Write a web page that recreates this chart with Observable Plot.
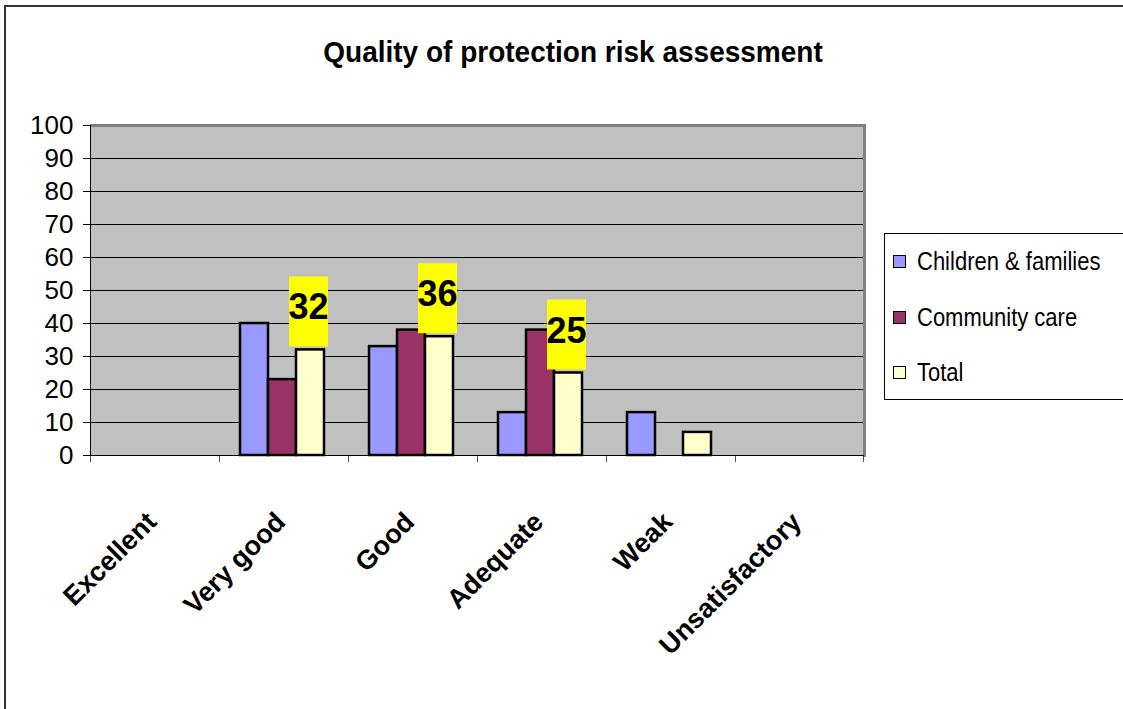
<!DOCTYPE html>
<html>
<head>
<meta charset="utf-8">
<script src="https://cdn.jsdelivr.net/npm/d3@7"></script>
<script src="https://cdn.jsdelivr.net/npm/@observablehq/plot@0.6"></script>
<style>
  html, body { margin: 0; padding: 0; background: #fff; }
  #wrap { position: relative; width: 1123px; height: 709px; overflow: hidden; background: #fff;
          font-family: "Liberation Sans", Arial, sans-serif; }
  #border { position: absolute; left: 4px; top: 5px; right: -10px; bottom: -10px;
            border-top: 2px solid #333; border-left: 2px solid #333; }
  #title { position: absolute; left: 573px; top: 36px; transform: translateX(-50%) scaleY(1.08);
           font-size: 28px; font-weight: bold; white-space: nowrap; color: #000; }
  #chart { position: absolute; left: 0; top: 0; }
  #legend { position: absolute; left: 884px; top: 233px; width: 260px; height: 165px;
            border: 1px solid #000; background: #fff; }
  .item { position: absolute; left: 8px; display: flex; align-items: center; font-size: 25px; color: #000; white-space: nowrap; }
  .item span { display: inline-block; transform: scaleX(0.88); transform-origin: left center; }
  .sw { width: 11px; height: 11px; border: 1px solid #000; margin-right: 11px; }
  svg text { font-family: "Liberation Sans", Arial, sans-serif; }
</style>
</head>
<body>
<div id="wrap">
  <div id="border"></div>
  <div id="title">Quality of protection risk assessment</div>
  <div id="chart"></div>
  <div id="legend"></div>
</div>
<script>
const categories = ["Excellent", "Very good", "Good", "Adequate", "Weak", "Unsatisfactory"];
const series = ["Children & families", "Community care", "Total"];
const childrenFamilies = [0, 40, 33, 13, 13, 0];
const communityCare = [0, 23, 38, 38, 0, 0];
const total = [0, 32, 36, 25, 7, 0];
const labelledCategories = ["Very good", "Good", "Adequate"];
const seriesColors = ["#9999FF", "#993366", "#FFFFCC"];
const yTicks = [0, 10, 20, 30, 40, 50, 60, 70, 80, 90, 100];

const seriesValues = [childrenFamilies, communityCare, total];
const rows = [];
categories.forEach((c, i) => {
  series.forEach((s, j) => {
    rows.push({category: c, series: s, value: seriesValues[j][i]});
  });
});
const barRows = rows.filter(d => d.value > 0);
const labelRows = rows.filter(d => d.series === "Total" && labelledCategories.includes(d.category));

const W = 1123, H = 709, ML = 89, MR = 258, MT = 125, MB = 254;
const facetW = (W - ML - MR) / categories.length;
const plotH = H - MT - MB;

const plot = Plot.plot({
  width: W,
  height: H,
  marginLeft: ML,
  marginRight: MR,
  marginTop: MT,
  marginBottom: MB,
  style: {background: "transparent", overflow: "visible"},
  fx: {domain: categories, padding: 0, axis: null},
  x: {domain: series, paddingInner: 0, paddingOuter: 0.73, align: 0.46, axis: null},
  y: {domain: [0, 100], axis: null},
  color: {domain: series, range: seriesColors},
  marks: [
    Plot.frame({fill: "#C0C0C0", stroke: null, facet: "super"}),
    Plot.gridY(yTicks, {stroke: "#000", strokeOpacity: 1, strokeWidth: 1}),
    Plot.ruleY([100], {stroke: "#808080", strokeWidth: 3}),
    Plot.frame({anchor: "right", stroke: "#808080", strokeWidth: 3, facet: "super"}),
    Plot.frame({anchor: "left", stroke: "#000", strokeWidth: 1, facet: "super"}),
    Plot.ruleY([0], {stroke: "#000", strokeWidth: 1}),
    // category boundary ticks below the axis
    Plot.rect([null], {insetTop: plotH, insetBottom: -7, insetRight: facetW - 1, fill: "#000"}),
    Plot.rect([categories[categories.length - 1]], {fx: d => d, insetTop: plotH, insetBottom: -7, insetLeft: facetW - 1, fill: "#000"}),
    Plot.barY(barRows, {fx: "category", x: "series", y: "value", fill: "series", stroke: "#000", strokeWidth: 2.5}),
    Plot.barY(labelRows, {fx: "category", x: "series", y1: "value", y2: "value", fill: "#FFFF00",
      insetTop: -73, insetBottom: 3, insetLeft: -7, insetRight: -4}),
    Plot.text(labelRows, {fx: "category", x: "series", y: "value", text: d => String(d.value),
      dy: -42, dx: -2, fontSize: 36, fontWeight: "bold", fill: "#000", lineAnchor: "middle"}),
    Plot.axisY(yTicks, {anchor: "left", label: null, tickSize: 7, tickPadding: 10, fontSize: 26, stroke: "#000", fill: "#000", strokeOpacity: 1}),
    Plot.text(categories, {fx: d => d, frameAnchor: "bottom", text: d => d, rotate: -45, textAnchor: "end",
      lineAnchor: "bottom", dy: 68, dx: 3, fontSize: 27, fontWeight: "bold", fill: "#000"})
  ]
});
document.getElementById("chart").appendChild(plot);

const legend = document.getElementById("legend");
const rowTops = [262, 318, 373];
series.forEach((s, i) => {
  const item = document.createElement("div");
  item.className = "item";
  item.style.top = (rowTops[i] - 233 - 16) + "px";
  item.innerHTML = `<div class="sw" style="background:${seriesColors[i]}"></div><span></span>`;
  item.querySelector("span").textContent = s;
  legend.appendChild(item);
});
</script>
</body>
</html>
